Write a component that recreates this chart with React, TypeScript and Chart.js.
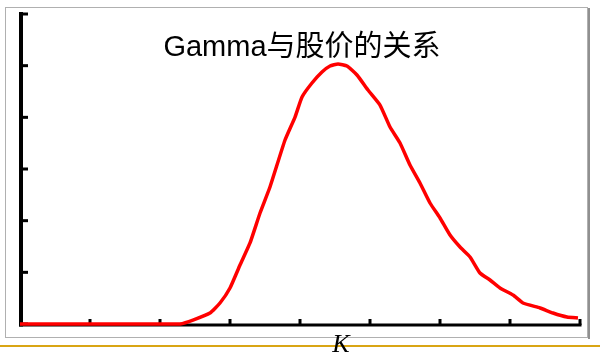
import React, { useEffect, useRef } from "react";
import { Chart, registerables } from "chart.js";

Chart.register(...registerables);

const titleText = "Gamma与股价的关系";
const xAxisLabel = "K";
const xTicks = [0, 1, 2, 3, 4, 5, 6, 7, 8];
const yTicks = [0, 1, 2, 3, 4, 5, 6];

const stockX = [
  0, 2.143, 2.286, 2.471, 2.714, 2.857, 3.0, 3.143, 3.286, 3.429, 3.571, 3.786,
  3.929, 4.029, 4.171, 4.314, 4.429, 4.543, 4.671, 4.814, 4.971, 5.143, 5.286,
  5.429, 5.571, 5.714, 5.857, 6.0, 6.143, 6.286, 6.429, 6.571, 6.714, 6.857,
  7.043, 7.186, 7.429, 7.614, 7.814, 7.971,
];
const gammaY = [
  0, 0, 0, 0.077, 0.213, 0.406, 0.697, 1.142, 1.568, 2.148, 2.651, 3.561,
  4.006, 4.393, 4.664, 4.877, 4.993, 5.032, 4.993, 4.819, 4.529, 4.238, 3.813,
  3.503, 3.077, 2.729, 2.342, 2.052, 1.722, 1.49, 1.297, 0.987, 0.852, 0.697,
  0.561, 0.406, 0.31, 0.213, 0.135, 0.116,
];

const decorPlugin = {
  id: "decor",
  beforeDraw(chart: any) {
    const ctx = chart.ctx;
    ctx.save();
    ctx.fillStyle = "#ffffff";
    ctx.fillRect(0, 0, chart.width, chart.height);
    // frame
    ctx.strokeStyle = "#b0b0b0";
    ctx.lineWidth = 1;
    ctx.strokeRect(5.5, 7.5, 582, 330);
    ctx.strokeStyle = "#909090";
    ctx.lineWidth = 2;
    ctx.beginPath();
    ctx.moveTo(589, 8);
    ctx.lineTo(589, 339);
    ctx.stroke();
    // gold line
    ctx.strokeStyle = "#d9a514";
    ctx.lineWidth = 2;
    ctx.beginPath();
    ctx.moveTo(0, 346);
    ctx.lineTo(600, 346);
    ctx.stroke();
    ctx.restore();
  },
  beforeDatasetsDraw(chart: any) {
    const ctx = chart.ctx;
    const xs = chart.scales.x;
    const ys = chart.scales.y;
    const x0 = xs.getPixelForValue(xTicks[0]);
    const y0 = ys.getPixelForValue(yTicks[0]) + 1;
    const yTop = ys.getPixelForValue(yTicks[yTicks.length - 1]);
    const xEnd = xs.getPixelForValue(xTicks[xTicks.length - 1]);
    ctx.save();
    ctx.strokeStyle = "#000000";
    ctx.lineCap = "butt";
    // y axis
    ctx.lineWidth = 4;
    ctx.beginPath();
    ctx.moveTo(x0 + 1, yTop - 2);
    ctx.lineTo(x0 + 1, y0 + 1.5);
    ctx.stroke();
    // x axis
    ctx.lineWidth = 3;
    ctx.beginPath();
    ctx.moveTo(x0 - 1, y0);
    ctx.lineTo(xEnd + 1.5, y0);
    ctx.stroke();
    // y ticks
    ctx.lineWidth = 3;
    yTicks.forEach((v) => {
      const py = ys.getPixelForValue(v);
      ctx.beginPath();
      ctx.moveTo(x0 + 1, py);
      ctx.lineTo(x0 + 8, py);
      ctx.stroke();
    });
    // x ticks
    xTicks.forEach((v, i) => {
      if (i === 0) return;
      const px = xs.getPixelForValue(v);
      ctx.beginPath();
      ctx.moveTo(px, y0);
      ctx.lineTo(px, y0 - 6);
      ctx.stroke();
    });
    ctx.restore();
  },
  afterDraw(chart: any) {
    const ctx = chart.ctx;
    ctx.save();
    ctx.fillStyle = "#000000";
    ctx.font = "29px 'Liberation Sans', 'Noto Sans CJK SC', sans-serif";
    ctx.textAlign = "center";
    ctx.textBaseline = "alphabetic";
    ctx.fillText(titleText, 302, 56);
    ctx.font = "italic 26px 'Liberation Serif', 'DejaVu Serif', serif";
    ctx.fillText(xAxisLabel, 341, 352);
    ctx.restore();
  },
};

export default function App() {
  const ref = useRef<HTMLCanvasElement>(null);
  useEffect(() => {
    if (!ref.current) return;
    const chart = new Chart(ref.current, {
      type: "line",
      data: {
        datasets: [
          {
            data: stockX.map((x, i) => ({ x, y: gammaY[i] })),
            borderColor: "#ff0000",
            borderWidth: 3.5,
            pointRadius: 0,
            tension: 0.15,
            fill: false,
            clip: false as any,
          },
        ],
      },
      options: {
        animation: false,
        responsive: false,
        layout: { padding: { left: 20, right: 20, top: 14, bottom: 30 } },
        plugins: { legend: { display: false }, title: { display: false }, tooltip: { enabled: false } },
        scales: {
          x: { type: "linear", min: xTicks[0], max: xTicks[xTicks.length - 1], display: false },
          y: { type: "linear", min: yTicks[0], max: yTicks[yTicks.length - 1], display: false },
        },
      },
      plugins: [decorPlugin],
    });
    return () => chart.destroy();
  }, []);
  return (
    <div style={{ position: "fixed", left: 0, top: 0, width: 600, height: 354 }}>
      <canvas ref={ref} width={600} height={354} style={{ display: "block" }} />
    </div>
  );
}
